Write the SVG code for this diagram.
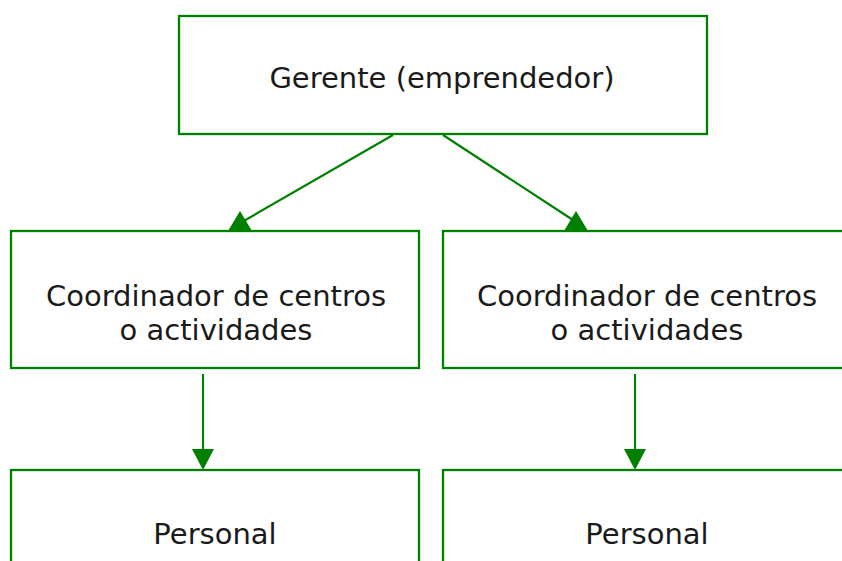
<svg xmlns="http://www.w3.org/2000/svg" width="842" height="561" viewBox="0 0 842 561">
<style>
.box{fill:#ffffff;stroke:#008000;stroke-width:2.3}
.lbl{font-family:"DejaVu Sans",Verdana,sans-serif;font-size:29px;fill:#1a1a1a;text-anchor:middle}
.con{stroke:#008000;stroke-width:2.2;fill:none}
.head{fill:#008000}
</style>
<rect width="842" height="561" fill="#ffffff"/>
<g id="gerente">
<rect class="box" x="179" y="16" width="528" height="118"/>
<text class="lbl" x="442" y="88">Gerente (emprendedor)</text>
</g>
<g id="coord1">
<rect class="box" x="11" y="231" width="408" height="137"/>
<text class="lbl" x="216" y="306">Coordinador de centros</text>
<text class="lbl" x="216" y="340">o actividades</text>
</g>
<g id="coord2">
<rect class="box" x="443" y="231" width="408" height="137"/>
<text class="lbl" x="647" y="306">Coordinador de centros</text>
<text class="lbl" x="647" y="340">o actividades</text>
</g>
<g id="personal1">
<rect class="box" x="11" y="470" width="408" height="120"/>
<text class="lbl" x="215" y="544">Personal</text>
</g>
<g id="personal2">
<rect class="box" x="443" y="470" width="408" height="120"/>
<text class="lbl" x="647" y="544">Personal</text>
</g>
<g id="connectors">
<line class="con" x1="393" y1="135" x2="242" y2="222"/>
<path class="head" d="M240,211 L228,231 L252,231 Z"/>
<line class="con" x1="443" y1="135" x2="576" y2="222"/>
<path class="head" d="M576,211 L564,231 L588,231 Z"/>
<line class="con" x1="203" y1="374" x2="203" y2="452"/>
<path class="head" d="M192,449 L214,449 L203,470 Z"/>
<line class="con" x1="635" y1="374" x2="635" y2="452"/>
<path class="head" d="M624,449 L646,449 L635,470 Z"/>
</g>
</svg>
